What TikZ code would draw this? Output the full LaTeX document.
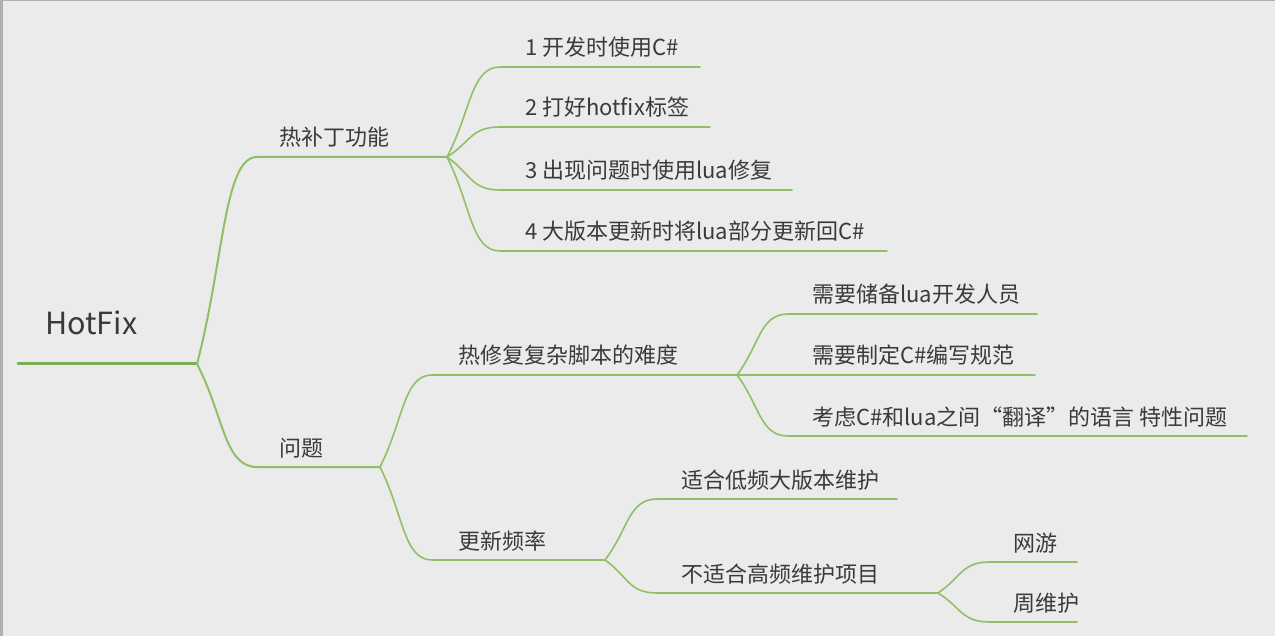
\documentclass[tikz,border=0pt]{standalone}
\usepackage{fontspec}
\newfontfamily\cjk{Noto Sans CJK SC}
\usetikzlibrary{calc}
\definecolor{bg}{HTML}{EBEBEB}
\definecolor{edge}{HTML}{B0B0B0}
\definecolor{br}{HTML}{8FC067}
\definecolor{brdark}{HTML}{7AAF55}
\definecolor{txt}{HTML}{3A3A3A}
\tikzset{
  forkto/.style={to path={let \p1=(\tikztostart), \p2=(\tikztotarget) in
     .. controls (\x1+#1*0.45pt, \y1*0.5+\y2*0.5) and (\x1+#1*0.45pt, \y2) .. (\x1+#1pt, \y2) -- (\p2)}},
  forkto/.default=52,
  lzero/.style={draw=brdark, line width=3pt, line cap=round},
  lone/.style={draw=br, line width=2pt, line cap=round},
  ltwo/.style={draw=br, line width=1.6pt, line cap=round},
  lbl/.style={anchor=base west, inner sep=0pt, text=txt, font=\cjk\fontsize{22}{26}\selectfont},
  rootlbl/.style={anchor=base west, inner sep=0pt, text=txt, font=\cjk\fontsize{30.5}{36}\selectfont},
}
\begin{document}
\begin{tikzpicture}[x=1pt,y=-1pt]
\useasboundingbox (0,0) rectangle (1275,636);
\fill[bg] (0,0) rectangle (1275,636);
\draw[edge, line width=1.5pt] (0,0.75) -- (1275,0.75);
\draw[edge, line width=2.5pt] (1.25,0) -- (1.25,636);

% coordinates
\coordinate (r0) at (18,364);
\coordinate (R) at (197,364);
\coordinate (A) at (447,157);
\coordinate (B) at (380,467);
\coordinate (A1) at (700,67);
\coordinate (A2) at (710,127);
\coordinate (A3) at (792,190);
\coordinate (A4) at (887,251);
\coordinate (B1) at (737,375);
\coordinate (B2) at (605,560);
\coordinate (B1a) at (1037,314);
\coordinate (B1b) at (1035,375);
\coordinate (B1c) at (1247,436);
\coordinate (B2a) at (897,499);
\coordinate (B2b) at (938,593);
\coordinate (B2b1) at (1077,562);
\coordinate (B2b2) at (1077,622);

% texts
\node[rootlbl] (troot) at (45,335) {HotFix};
\node[lbl] (tA) at (279,146) {热补丁功能};
\node[lbl] (tA1) at (525,56) {1 开发时使用C\#};
\node[lbl] (tA2) at (525,116) {2 打好hotfix标签};
\node[lbl] (tA3) at (525,179) {3 出现问题时使用lua修复};
\node[lbl] (tA4) at (525,240) {4 大版本更新时将lua部分更新回C\#};
\node[lbl] (tB) at (279,456) {问题};
\node[lbl] (tB1) at (458,364) {热修复复杂脚本的难度};
\node[lbl] (tB1a) at (812,303) {需要储备lua开发人员};
\node[lbl] (tB1b) at (812,364) {需要制定C\#编写规范};
\node[lbl] (tB1c) at (812,425) {考虑C\#和lua之间“翻译”的语言 特性问题};
\node[lbl] (tB2) at (458,549) {更新频率};
\node[lbl] (tB2a) at (681,488) {适合低频大版本维护};
\node[lbl] (tB2b) at (681,582) {不适合高频维护项目};
\node[lbl] (tB2b1) at (1013,551) {网游};
\node[lbl] (tB2b2) at (1013,611) {周维护};

% connectors
\draw[lzero] (r0) -- (R);
\draw[lone] (R) to[forkto=60] (A);
\draw[lone] (R) to[forkto=60] (B);
\draw[ltwo] (A) to[forkto=53] (A1);
\draw[ltwo] (A) to[forkto=53] (A2);
\draw[ltwo] (A) to[forkto=53] (A3);
\draw[ltwo] (A) to[forkto=53] (A4);
\draw[ltwo] (B) to[forkto=52] (B1);
\draw[ltwo] (B) to[forkto=52] (B2);
\draw[ltwo] (B1) to[forkto=51] (B1a);
\draw[ltwo] (B1) -- (B1b);
\draw[ltwo] (B1) to[forkto=51] (B1c);
\draw[ltwo] (B2) to[forkto=52] (B2a);
\draw[ltwo] (B2) to[forkto=52] (B2b);
\draw[ltwo] (B2b) to[forkto=52] (B2b1);
\draw[ltwo] (B2b) to[forkto=52] (B2b2);
\end{tikzpicture}
\end{document}
